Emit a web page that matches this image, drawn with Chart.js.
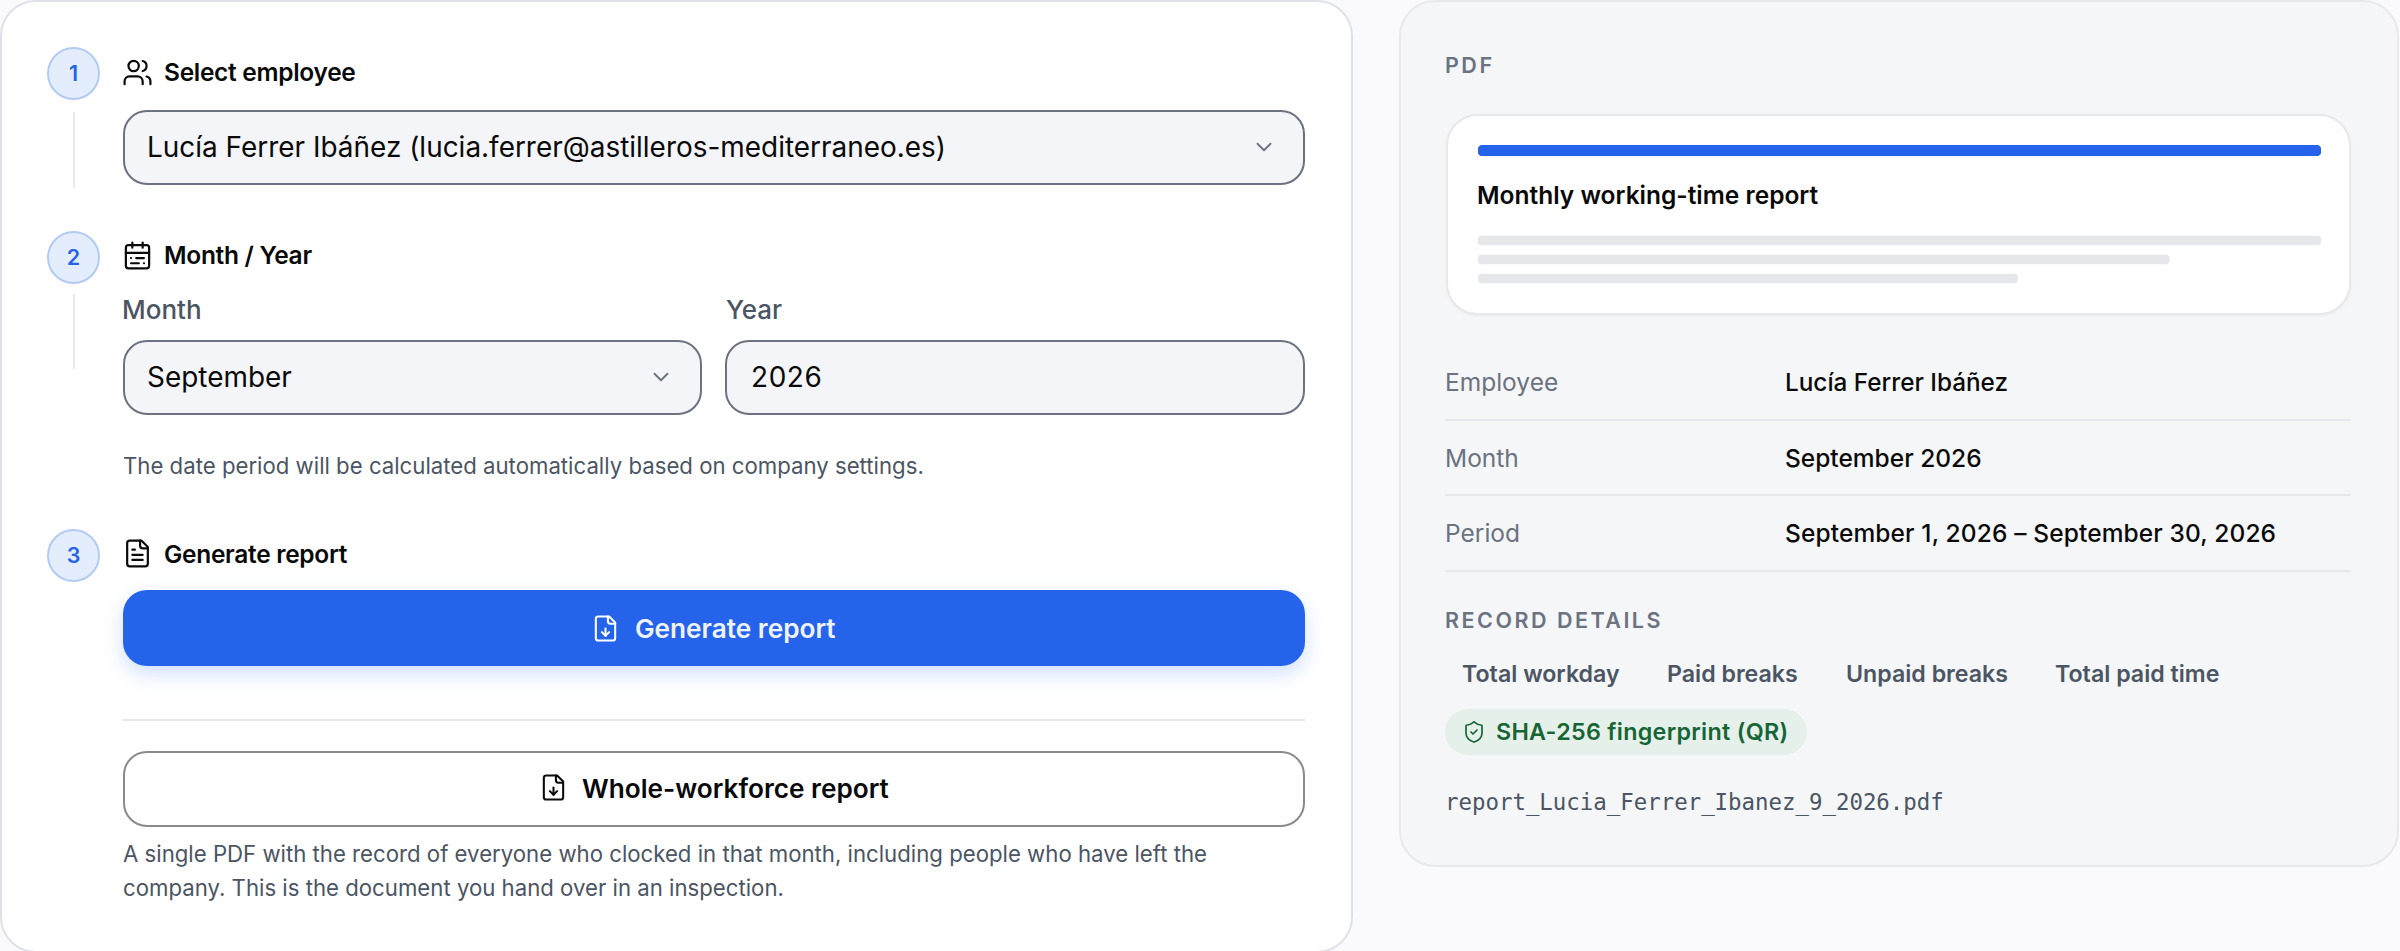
<!DOCTYPE html>
<html>
<head>
<meta charset="utf-8">
<title>Monthly working-time report</title>
<script src="https://cdn.jsdelivr.net/npm/chart.js@4/dist/chart.umd.min.js"></script>
<style>
html, body { margin: 0; padding: 0; width: 2400px; height: 951px; overflow: hidden; background: #fafafc; font-family: Inter, sans-serif; }
.card { position: absolute; box-sizing: border-box; }
#left { left: 0; top: 0; width: 1353px; height: 953px; background: #fff; border: 2px solid #dfe1ea; border-radius: 36px; }
#right { left: 1399px; top: 0; width: 1000px; height: 867px; background: #f5f6f8; border: 2px solid #e8e9ed; border-radius: 36px; }
#preview { left: 1446px; top: 114px; width: 905px; height: 201px; background: #fff; border: 2px solid #e8e9ed; border-radius: 32px; box-shadow: 0 1px 3px rgba(0,0,0,.05); }
.t { position: absolute; white-space: nowrap; transform: translateY(-50%); }
.dot { position: absolute; box-sizing: border-box; left: 47px; width: 53px; height: 53px; border-radius: 50%; background: #e4edfb; border: 2px solid #b3cbf3; color: #2563eb; font-size: 21.5px; font-weight: 600; text-align: center; line-height: 49px; }
.link { position: absolute; left: 73px; width: 2px; background: #e9eaee; }
.head { left: 164px; font-size: 24.5px; font-weight: 600; color: #0a0a0a; letter-spacing: -0.3px; }
.ico { position: absolute; fill: none; stroke: currentColor; stroke-linecap: round; stroke-linejoin: round; stroke-width: 1.7; }
.field { position: absolute; box-sizing: border-box; height: 75px; background: #f4f5f8; border: 2px solid #6b7280; border-radius: 24px; }
.val { font-size: 27.95px; color: #0a0a0a; }
.lab { font-size: 26px; font-weight: 500; color: #4b5563; }
.note { left: 123px; font-size: 22.2px; color: #4b5563; }
.btn { position: absolute; box-sizing: border-box; left: 123px; width: 1182px; border-radius: 24px; }
.rule { position: absolute; height: 2px; background: #e7e8ec; }
.k { left: 1445px; font-size: 24.5px; color: #6b7280; }
.v { left: 1785px; font-size: 24.5px; font-weight: 500; color: #0a0a0a; }
.caps { left: 1445px; font-size: 21.5px; font-weight: 600; color: #6b7280; letter-spacing: 2.5px; }
.chip { font-size: 23.2px; font-weight: 600; color: #4b5563; }
canvas { position: absolute; display: block; }
</style>
</head>
<body>
<div class="card" id="left"></div>
<div class="card" id="right"></div>

<!-- steps -->
<div class="dot" style="top:47px">1</div>
<div class="link" style="top:112px;height:76px"></div>
<svg class="ico" style="left:122px;top:57px;color:#0a0a0a" width="31" height="31" viewBox="0 0 24 24"><path d="M16 21v-2a4 4 0 0 0-4-4H6a4 4 0 0 0-4 4v2"/><circle cx="9" cy="7" r="4"/><path d="M22 21v-2a4 4 0 0 0-3-3.87"/><path d="M16 3.13a4 4 0 0 1 0 7.75"/></svg>
<div class="t head" style="top:72px">Select employee</div>

<div class="field" style="left:123px;top:110px;width:1182px"></div>
<div class="t val" style="left:147px;top:147px">Lucía Ferrer Ibáñez (lucia.ferrer@astilleros-mediterraneo.es)</div>
<svg class="ico" style="left:1251px;top:134px;color:#6b7280" width="26" height="26" viewBox="0 0 24 24"><path d="m6 9 6 6 6-6"/></svg>

<div class="dot" style="top:231px">2</div>
<div class="link" style="top:294px;height:75px"></div>
<svg class="ico" style="left:122px;top:240px;color:#0a0a0a" width="31" height="31" viewBox="0 0 24 24"><rect width="18" height="18" x="3" y="4" rx="2"/><path d="M16 2v4"/><path d="M3 10h18"/><path d="M8 2v4"/><path d="M17 14h-6"/><path d="M13 18H7"/><path d="M7 14h.01"/><path d="M17 18h.01"/></svg>
<div class="t head" style="top:255px">Month / Year</div>

<div class="t lab" style="left:122px;top:309px">Month</div>
<div class="t lab" style="left:726px;top:309px">Year</div>
<div class="field" style="left:123px;top:340px;width:579px"></div>
<div class="t val" style="left:147px;top:377px">September</div>
<svg class="ico" style="left:648px;top:364px;color:#6b7280" width="26" height="26" viewBox="0 0 24 24"><path d="m6 9 6 6 6-6"/></svg>
<div class="field" style="left:725px;top:340px;width:580px"></div>
<div class="t val" style="left:751px;top:377px;letter-spacing:.6px">2026</div>
<div class="t note" style="top:465px">The date period will be calculated automatically based on company settings.</div>

<div class="dot" style="top:529px">3</div>
<svg class="ico" style="left:122px;top:538px;color:#0a0a0a" width="31" height="31" viewBox="0 0 24 24"><path d="M15 2H6a2 2 0 0 0-2 2v16a2 2 0 0 0 2 2h12a2 2 0 0 0 2-2V7Z"/><path d="M14 2v4a2 2 0 0 0 2 2h4"/><path d="M10 9H8"/><path d="M16 13H8"/><path d="M16 17H8"/></svg>
<div class="t head" style="top:554px">Generate report</div>

<div class="btn" style="top:590px;height:76px;background:#2563eb;box-shadow:0 8px 20px rgba(37,99,235,.2)"></div>
<svg class="ico" style="left:591px;top:614px;color:#fff" width="29" height="29" viewBox="0 0 24 24"><path d="M15 2H6a2 2 0 0 0-2 2v16a2 2 0 0 0 2 2h12a2 2 0 0 0 2-2V7Z"/><path d="M14 2v4a2 2 0 0 0 2 2h4"/><path d="M12 18v-6"/><path d="m9 15 3 3 3-3"/></svg>
<div class="t" style="left:635px;top:628px;font-size:26.2px;font-weight:600;color:#eef3fe">Generate report</div>

<div class="rule" style="left:123px;top:719px;width:1182px"></div>

<div class="btn" style="top:751px;height:76px;background:#fff;border:2px solid #8a8a8e"></div>
<svg class="ico" style="left:539px;top:773px;color:#0a0a0a" width="29" height="29" viewBox="0 0 24 24"><path d="M15 2H6a2 2 0 0 0-2 2v16a2 2 0 0 0 2 2h12a2 2 0 0 0 2-2V7Z"/><path d="M14 2v4a2 2 0 0 0 2 2h4"/><path d="M12 18v-6"/><path d="m9 15 3 3 3-3"/></svg>
<div class="t" style="left:582px;top:788px;font-size:26.2px;font-weight:600;color:#0a0a0a">Whole-workforce report</div>
<div class="t note" style="top:853px">A single PDF with the record of everyone who clocked in that month, including people who have left the</div>
<div class="t note" style="top:887px">company. This is the document you hand over in an inspection.</div>

<!-- pdf preview -->
<div class="t caps" style="top:65px">PDF</div>
<div class="card" id="preview"></div>
<canvas id="barTop" style="left:1478px;top:145px"></canvas>
<div class="t" style="left:1477px;top:195px;font-size:24.5px;font-weight:600;color:#0a0a0a">Monthly working-time report</div>
<canvas id="barLines" style="left:1478px;top:231px"></canvas>

<div class="t k" style="top:382px">Employee</div>
<div class="t v" style="top:382px;font-size:24.3px">Lucía Ferrer Ibáñez</div>
<div class="rule" style="left:1445px;top:419px;width:906px"></div>
<div class="t k" style="top:458px">Month</div>
<div class="t v" style="top:458px">September 2026</div>
<div class="rule" style="left:1445px;top:494px;width:906px"></div>
<div class="t k" style="top:533px">Period</div>
<div class="t v" style="top:533px;letter-spacing:.12px">September 1, 2026 – September 30, 2026</div>
<div class="rule" style="left:1445px;top:570px;width:906px"></div>

<div class="t caps" style="top:620px">RECORD DETAILS</div>
<div class="t chip" style="left:1462px;top:674px">Total workday</div>
<div class="t chip" style="left:1667px;top:674px">Paid breaks</div>
<div class="t chip" style="left:1846px;top:674px">Unpaid breaks</div>
<div class="t chip" style="left:2055px;top:674px">Total paid time</div>

<div class="card" style="left:1445px;top:709px;width:362px;height:46px;background:#e6f0ea;border-radius:23px"></div>
<svg class="ico" style="left:1462px;top:720px;color:#166534" width="24" height="24" viewBox="0 0 24 24"><path d="M20 13c0 5-3.5 7.5-7.66 8.95a1 1 0 0 1-.67-.01C7.5 20.5 4 18 4 13V6a1 1 0 0 1 1-1c2 0 4.5-1.2 6.24-2.72a1.17 1.17 0 0 1 1.52 0C14.51 3.81 17 5 19 5a1 1 0 0 1 1 1z"/><path d="m9 12 2 2 4-4"/></svg>
<div class="t" style="left:1496px;top:731px;font-size:23.3px;font-weight:600;letter-spacing:.3px;color:#166534">SHA-256 fingerprint (QR)</div>
<div class="t" style="left:1445px;top:802px;font-family:'DejaVu Sans Mono',monospace;font-size:22.4px;color:#4b5563">report_Lucia_Ferrer_Ibanez_9_2026.pdf</div>

<script>
// preview bars of the PDF thumbnail
const topLabels = ['header']
const topValues = [100]
const lineLabels = ['line 1', 'line 2', 'line 3']
const lineValues = [100, 82, 64]

const makeBars = (id, w, h, labels, values, color, thickness, radius) => {
  const canvas = document.getElementById(id)
  canvas.width = w
  canvas.height = h
  canvas.style.width = w + 'px'
  canvas.style.height = h + 'px'
  return new Chart(canvas.getContext('2d'), {
    type: 'bar',
    data: {
      labels: labels,
      datasets: [{
        data: values,
        backgroundColor: color,
        barThickness: thickness,
        borderRadius: radius,
        borderSkipped: false
      }]
    },
    options: {
      indexAxis: 'y',
      responsive: false,
      animation: false,
      layout: { padding: 0 },
      plugins: { legend: { display: false }, tooltip: { enabled: false } },
      scales: {
        x: { display: false, min: 0, max: 100 },
        y: { display: false }
      }
    }
  })
}

makeBars('barTop', 843, 11, topLabels, topValues, '#2563eb', 11, 5)
makeBars('barLines', 843, 57, lineLabels, lineValues, '#e5e7eb', 9, 4)
</script>
</body>
</html>
